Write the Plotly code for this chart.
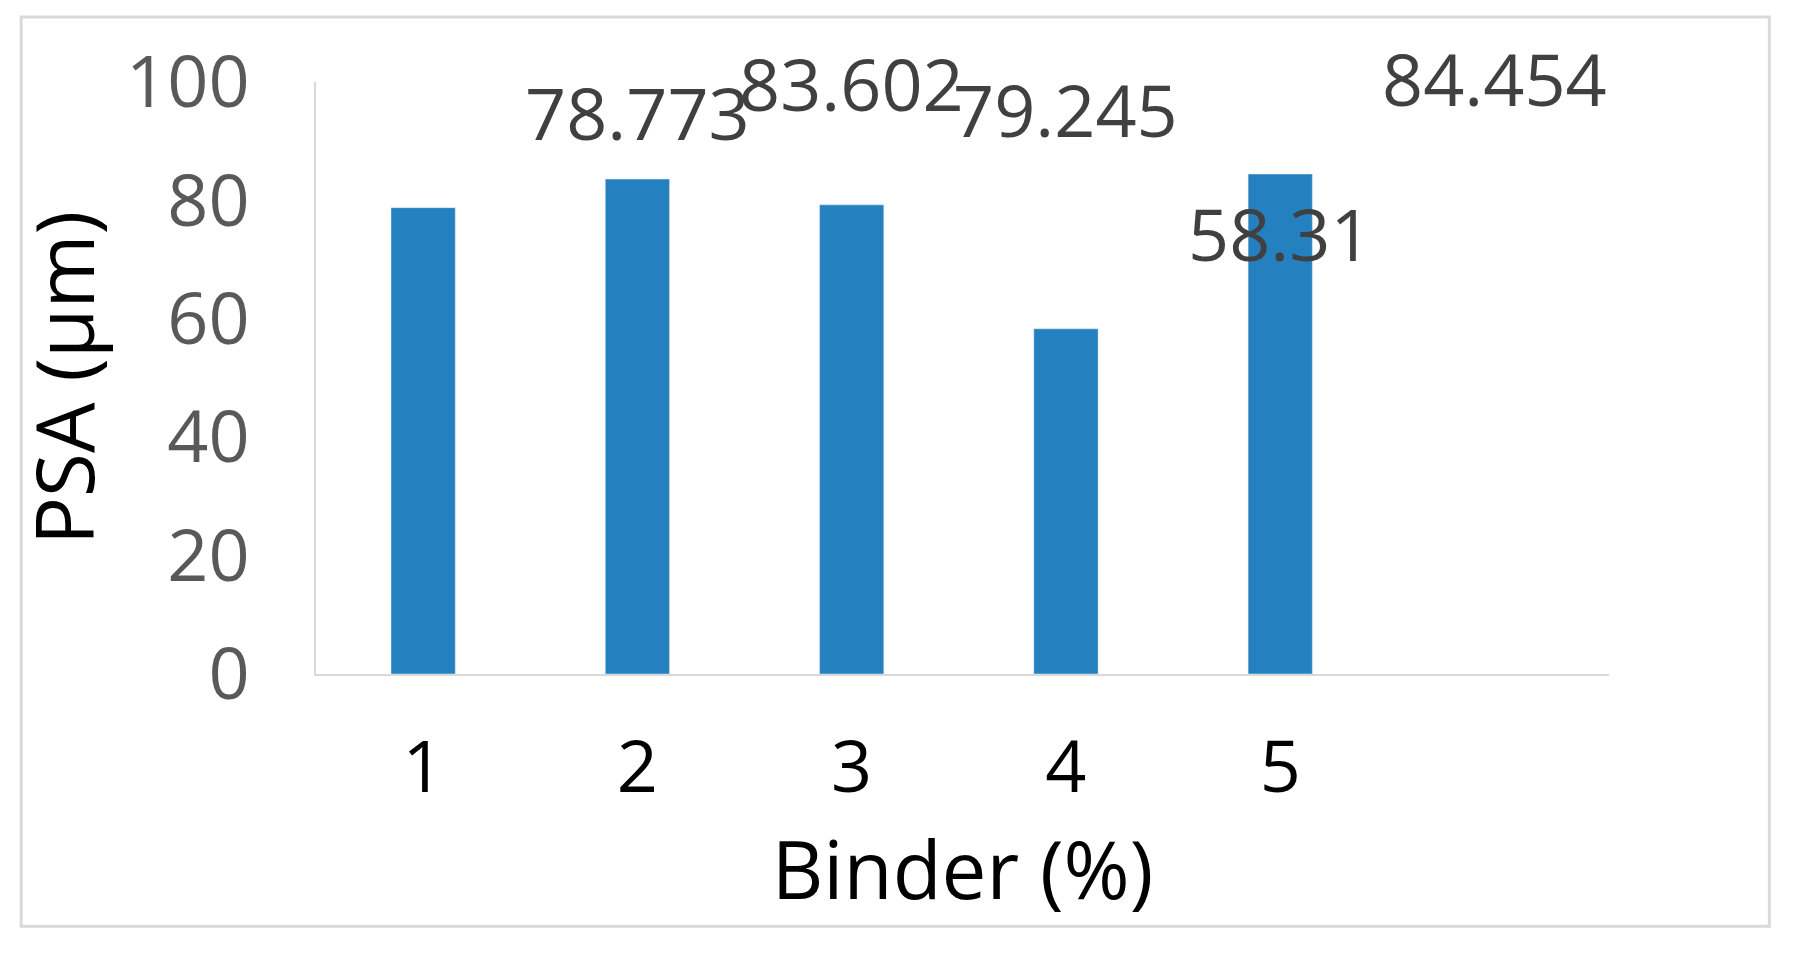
import plotly.graph_objects as go

binder = ["1", "2", "3", "4", "5"]
psa = [78.773, 83.602, 79.245, 58.31, 84.454]
psa_labels = ["78.773", "83.602", "79.245", "58.31", "84.454"]

fig = go.Figure()
fig.add_trace(
    go.Bar(
        x=binder,
        y=psa,
        marker=dict(color="#2580c0"),
        width=0.3,
    )
)

# data labels as annotations so they keep their full size
for xv, yv, lab in zip(binder, psa, psa_labels):
    fig.add_annotation(
        x=xv, y=yv, text=lab, showarrow=False, yanchor="bottom", yshift=45,
        font=dict(size=72, color="#404040"),
    )

fig.add_shape(
    type="rect", xref="paper", yref="paper",
    x0=-0.228, y0=-0.426, x1=1.124, y1=1.11,
    line=dict(color="#d9d9d9", width=3),
)

fig.update_xaxes(
    showline=True, linecolor="#d9d9d9", linewidth=2,
    tickfont=dict(size=72, color="black"),
    ticklabelstandoff=30,
    title=dict(text="Binder (%)", font=dict(size=80, color="black"), standoff=30),
    ticklen=0,
)
fig.update_yaxes(
    range=[0, 100], dtick=20, showgrid=False, zeroline=False,
    showline=True, linecolor="#d9d9d9", linewidth=2,
    tickfont=dict(size=72, color="#595959"),
    ticklabelstandoff=50,
    title=dict(text="PSA (µm)", font=dict(size=80, color="black"), standoff=10),
)
fig.update_layout(
    width=1801, height=957,
    font=dict(family="Open Sans"),
    plot_bgcolor="white", paper_bgcolor="white",
    margin=dict(l=308, r=200, t=74, b=291),
    showlegend=False,
)
fig.write_html("out.html")
